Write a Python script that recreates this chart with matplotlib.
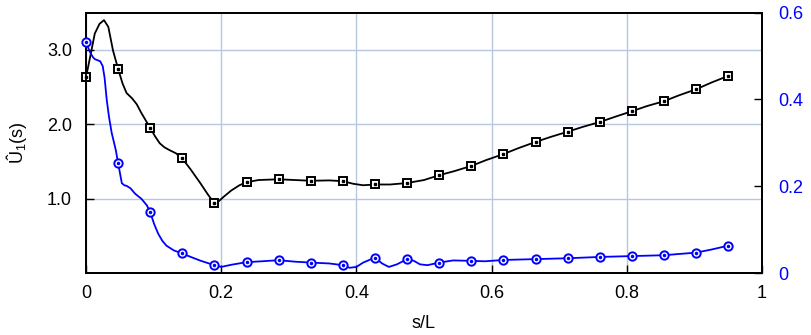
import matplotlib.pyplot as plt
import numpy as np

plt.rcParams['font.family'] = ['Liberation Sans', 'DejaVu Sans']
plt.rcParams['mathtext.fontset'] = 'custom'
plt.rcParams['mathtext.rm'] = 'Liberation Sans'
plt.rcParams['mathtext.it'] = 'Liberation Sans:italic'

# black curve (left axis)
s_black = [0, 0.006, 0.013, 0.020, 0.0266, 0.033, 0.040, 0.0475, 0.054, 0.060,
           0.068, 0.075, 0.082, 0.095, 0.102, 0.109, 0.116, 0.124, 0.133, 0.1425,
           0.155, 0.169, 0.180, 0.19, 0.197, 0.203, 0.215, 0.227, 0.2375, 0.255,
           0.285, 0.333, 0.36, 0.38, 0.395, 0.41, 0.4275, 0.45, 0.475, 0.50,
           0.5225, 0.545, 0.57, 0.5925, 0.617, 0.64, 0.665, 0.6875, 0.7125, 0.735,
           0.76, 0.7825, 0.8075, 0.83, 0.855, 0.8775, 0.9025, 0.925, 0.95]
u_black = [2.63, 2.90, 3.22, 3.35, 3.40, 3.31, 2.99, 2.745, 2.55, 2.42,
           2.35, 2.27, 2.15, 1.95, 1.84, 1.745, 1.69, 1.65, 1.61, 1.54,
           1.39, 1.21, 1.06, 0.935, 0.97, 1.02, 1.11, 1.18, 1.22, 1.25,
           1.26, 1.24, 1.245, 1.235, 1.20, 1.18, 1.19, 1.19, 1.21, 1.25,
           1.315, 1.37, 1.44, 1.52, 1.597, 1.68, 1.762, 1.83, 1.90, 1.965,
           2.03, 2.10, 2.175, 2.245, 2.31, 2.39, 2.47, 2.56, 2.65]

# blue curve (right axis)
s_blue = [0, 0.003, 0.006, 0.010, 0.013, 0.021, 0.0247, 0.0275, 0.0306, 0.034,
          0.038, 0.044, 0.0475, 0.053, 0.057, 0.060, 0.066, 0.0725, 0.082, 0.090,
          0.095, 0.101, 0.107, 0.113, 0.119, 0.130, 0.1425, 0.155, 0.170, 0.19,
          0.200, 0.215, 0.2375, 0.26, 0.285, 0.31, 0.333, 0.36, 0.38, 0.39,
          0.40, 0.41, 0.4275, 0.438, 0.448, 0.46, 0.475, 0.485, 0.494, 0.505,
          0.5225, 0.543, 0.57, 0.59, 0.617, 0.665, 0.7125, 0.76, 0.8075, 0.855,
          0.9025, 0.925, 0.95]
u_blue = [0.533, 0.52, 0.509, 0.498, 0.493, 0.488, 0.477, 0.45, 0.40, 0.36,
          0.323, 0.284, 0.2535, 0.207, 0.202, 0.201, 0.195, 0.183, 0.171, 0.156,
          0.140, 0.112, 0.090, 0.074, 0.063, 0.052, 0.045, 0.037, 0.028, 0.018,
          0.014, 0.019, 0.025, 0.027, 0.0295, 0.026, 0.024, 0.022, 0.018, 0.012,
          0.014, 0.024, 0.0356, 0.022, 0.014, 0.02, 0.032, 0.028, 0.020, 0.018,
          0.024, 0.029, 0.028, 0.027, 0.030, 0.032, 0.034, 0.037, 0.039, 0.041,
          0.047, 0.054, 0.063]

# marker positions
s_mark = [0, 0.0475, 0.095, 0.1425, 0.19, 0.2375, 0.285, 0.333, 0.38, 0.4275,
          0.475, 0.5225, 0.57, 0.617, 0.665, 0.7125, 0.76, 0.8075, 0.855, 0.9025, 0.95]
u_mark_black = [2.63, 2.745, 1.95, 1.54, 0.935, 1.22, 1.26, 1.24, 1.235, 1.19,
                1.21, 1.315, 1.44, 1.597, 1.762, 1.90, 2.03, 2.175, 2.31, 2.47, 2.65]
u_mark_blue = [0.533, 0.2535, 0.140, 0.045, 0.018, 0.025, 0.0295, 0.024, 0.018, 0.0356,
               0.032, 0.024, 0.028, 0.030, 0.032, 0.034, 0.037, 0.039, 0.041, 0.047, 0.063]

x_ticks = [0, 0.2, 0.4, 0.6, 0.8, 1]
x_labels = ['0', '0.2', '0.4', '0.6', '0.8', '1']
left_ticks = [1, 2, 3]
left_labels = ['1.0', '2.0', '3.0']
right_ticks = [0, 0.2, 0.4, 0.6]
right_labels = ['0', '0.2', '0.4', '0.6']

fig = plt.figure(figsize=(8.12, 3.35), dpi=100)
ax = fig.add_axes([86/812, 1 - 273/335, 676/812, 260.3/335])

ax.plot(s_black, u_black, color='black', lw=1.3, zorder=3)
ax.plot(s_mark, u_mark_black, 's', mfc='white', mec='black', ms=6, mew=1.4,
        zorder=4, clip_on=False)
ax.plot(s_mark, u_mark_black, 's', color='black', ms=1.5, zorder=5, clip_on=False)

ax.set_xlim(0, 1)
ax.set_ylim(0, 3.5)
ax.set_xticks(x_ticks)
ax.set_xticklabels(x_labels)
ax.set_yticks(left_ticks)
ax.set_yticklabels(left_labels)
ax.grid(True, color='#b7c8de', lw=1)
ax.set_axisbelow(True)
ax.tick_params(direction='in', length=6, width=1, labelsize=13)
ax.tick_params(axis='y', pad=10)
ax.tick_params(axis='x', pad=9)
ax.set_xlabel('s/L', fontsize=13, labelpad=9)
ax.set_ylabel('Û$_1$(s)', fontsize=13, labelpad=13)
for sp in ax.spines.values():
    sp.set_linewidth(1.3)

bx = ax.twinx()
bx.plot(s_blue, u_blue, color='#0000ff', lw=1.3, zorder=3)
bx.plot(s_mark, u_mark_blue, 'o', mfc='white', mec='#0000ff', ms=6, mew=1.4,
        zorder=4, clip_on=False)
bx.plot(s_mark, u_mark_blue, 'o', color='#0000ff', ms=1.5, zorder=5, clip_on=False)
bx.set_ylim(0, 0.6)
bx.set_yticks(right_ticks)
bx.set_yticklabels(right_labels)
bx.tick_params(direction='in', length=6, width=1, labelsize=13, pad=12,
               labelcolor='#0000ff')
for sp in bx.spines.values():
    sp.set_linewidth(1.3)

plt.savefig('out.png', dpi=100)
